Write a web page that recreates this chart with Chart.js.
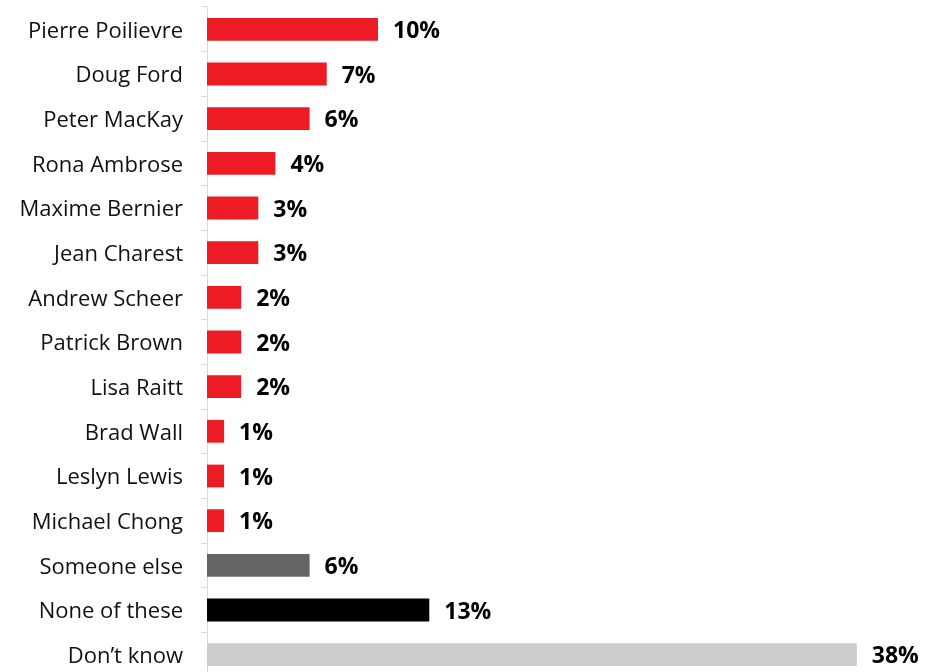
<!DOCTYPE html>
<html>
<head>
<meta charset="utf-8">
<script src="https://cdn.jsdelivr.net/npm/chart.js@4/dist/chart.umd.min.js"></script>
<style>
  html, body { margin: 0; padding: 0; background: #fff; overflow: hidden; }
  canvas { display: block; }
</style>
</head>
<body>
<canvas id="chart" width="931" height="677"></canvas>
<script>
const categories = ['Pierre Poilievre', 'Doug Ford', 'Peter MacKay', 'Rona Ambrose', 'Maxime Bernier',
    'Jean Charest', 'Andrew Scheer', 'Patrick Brown', 'Lisa Raitt', 'Brad Wall', 'Leslyn Lewis',
    'Michael Chong', 'Someone else', 'None of these', 'Don\u2019t know'];
const values = [10, 7, 6, 4, 3, 3, 2, 2, 2, 1, 1, 1, 6, 13, 38];
const barColors = ['#ED1C24', '#ED1C24', '#ED1C24', '#ED1C24', '#ED1C24', '#ED1C24', '#ED1C24',
    '#ED1C24', '#ED1C24', '#ED1C24', '#ED1C24', '#ED1C24', '#646464', '#000000', '#CCCCCC'];

// draws the "10%" labels to the right of each bar
const valueLabels = {
    id: 'valueLabels',
    afterDatasetsDraw(chart) {
        const ctx = chart.ctx;
        const meta = chart.getDatasetMeta(0);
        ctx.save();
        ctx.font = 'bold 23px "Open Sans", sans-serif';
        ctx.fillStyle = '#000';
        ctx.textAlign = 'left';
        ctx.textBaseline = 'middle';
        meta.data.forEach((bar, i) => {
            ctx.fillText(values[i] + '%', bar.x + 15, bar.y + 2);
        });
        ctx.restore();
    }
};

new Chart(document.getElementById('chart'), {
    type: 'bar',
    data: {
        labels: categories,
        datasets: [{
            data: values,
            backgroundColor: barColors,
            borderWidth: 0,
            barPercentage: 0.51,
            categoryPercentage: 1.0
        }]
    },
    options: {
        indexAxis: 'y',
        responsive: false,
        animation: false,
        layout: { autoPadding: false, padding: { top: 7, right: 40, bottom: 0, left: 0 } },
        plugins: {
            legend: { display: false },
            tooltip: { enabled: false }
        },
        scales: {
            x: {
                display: false,
                min: 0,
                max: 40
            },
            y: {
                afterFit(scale) {
                    scale.width = 207;
                    scale.paddingTop = 0;
                    scale.paddingBottom = 0;
                },
                grid: {
                    offset: true,
                    drawOnChartArea: false,
                    tickLength: 6,
                    color: '#D9D9D9'
                },
                border: { color: '#D9D9D9', width: 1 },
                ticks: {
                    color: '#111',
                    padding: 18,
                    labelOffset: 2,
                    font: { family: '"Open Sans", sans-serif', size: 22 }
                }
            }
        }
    },
    plugins: [valueLabels]
});
</script>
</body>
</html>
